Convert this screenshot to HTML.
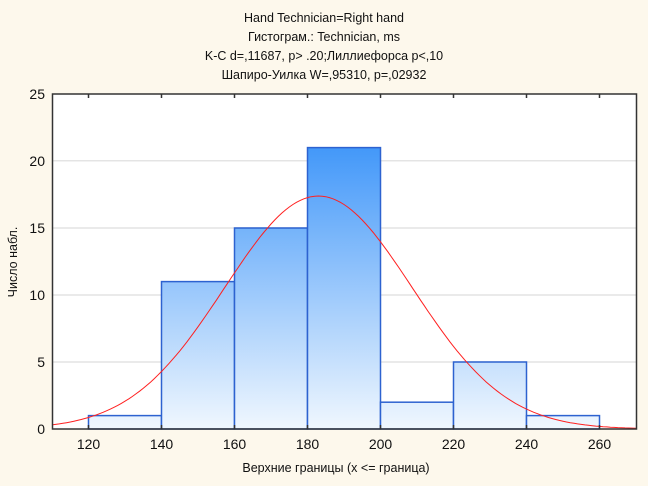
<!DOCTYPE html>
<html><head><meta charset="utf-8"><style>
html,body{margin:0;padding:0;background:#fdf8ec;}
svg{display:block;font-family:"Liberation Sans",sans-serif;}
</style></head><body>
<svg width="648" height="486" xmlns="http://www.w3.org/2000/svg">
<defs>
<linearGradient id="g" gradientUnits="userSpaceOnUse" x1="0" y1="94" x2="0" y2="429">
<stop offset="0" stop-color="#2286f8"/><stop offset="1" stop-color="#f0f7fe"/>
</linearGradient>
</defs>
<rect width="648" height="486" fill="#fdf8ec"/>
<rect x="52.5" y="94" width="584" height="335" fill="#fff"/>
<g stroke="#e4e4e4" stroke-width="1.5">
<line x1="53" x2="636" y1="160.8" y2="160.8"/><line x1="53" x2="636" y1="228" y2="228"/>
<line x1="53" x2="636" y1="295" y2="295"/><line x1="53" x2="636" y1="362" y2="362"/>
</g>
<g fill="url(#g)" stroke="#2d62d0" stroke-width="1.5">
<rect x="88.5" y="415.6" width="73" height="13.4"/>
<rect x="161.5" y="281.6" width="73" height="147.4"/>
<rect x="234.5" y="228" width="73" height="201"/>
<rect x="307.5" y="147.6" width="73" height="281.4"/>
<rect x="380.5" y="402.2" width="73" height="26.8"/>
<rect x="453.5" y="362" width="73" height="67"/>
<rect x="526.5" y="415.6" width="73" height="13.4"/>
</g>
<path id="curve" fill="none" stroke="#ff2020" stroke-width="1"/>
<rect x="52.5" y="94" width="584" height="335" fill="none" stroke="#333" stroke-width="1.5"/>
<g stroke="#333" stroke-width="1.5">
<path d="M88.5 429v-4M161.5 429v-4M234.5 429v-4M307.5 429v-4M380.5 429v-4M453.5 429v-4M526.5 429v-4M599.5 429v-4M88.5 94v4M161.5 94v4M234.5 94v4M307.5 94v4M380.5 94v4M453.5 94v4M526.5 94v4M599.5 94v4"/>
</g>
<g font-size="14" fill="#111" text-anchor="end">
<text x="45" y="99">25</text><text x="45" y="166">20</text><text x="45" y="233">15</text>
<text x="45" y="300">10</text><text x="45" y="367">5</text><text x="45" y="434">0</text>
</g>
<g font-size="14" fill="#111" text-anchor="middle">
<text x="88.5" y="449">120</text><text x="161.5" y="449">140</text><text x="234.5" y="449">160</text>
<text x="307.5" y="449">180</text><text x="380.5" y="449">200</text><text x="453.5" y="449">220</text>
<text x="526.5" y="449">240</text><text x="599.5" y="449">260</text>
</g>
<text x="336" y="472" font-size="12.5" text-anchor="middle" fill="#111">Верхние границы (x &lt;= граница)</text>
<text transform="translate(17,262) rotate(-90)" font-size="12.5" text-anchor="middle" fill="#111">Число набл.</text>
<g font-size="12.5" text-anchor="middle" fill="#111">
<text x="324" y="22">Hand Technician=Right hand</text>
<text x="324" y="41">Гистограм.: Technician, ms</text>
<text x="324" y="60">K-C d=,11687, p&gt; .20;Лиллиефорса p&lt;,10</text>
<text x="324" y="79">Шапиро-Уилка W=,95310, p=,02932</text>
</g>
<script>
var X=function(v){return 88.5+(v-120)*3.65},Y=function(c){return 429-c*13.4};
var m=183,sd=25.7,N=56,p='';
for(var v=110;v<=270;v+=1){var c=N*20/(sd*Math.sqrt(2*Math.PI))*Math.exp(-Math.pow(v-m,2)/(2*sd*sd));p+=(v==110?'M':'L')+X(v).toFixed(1)+','+Y(c).toFixed(1);}
document.getElementById('curve').setAttribute('d',p);
</script>
</svg>
</body></html>
